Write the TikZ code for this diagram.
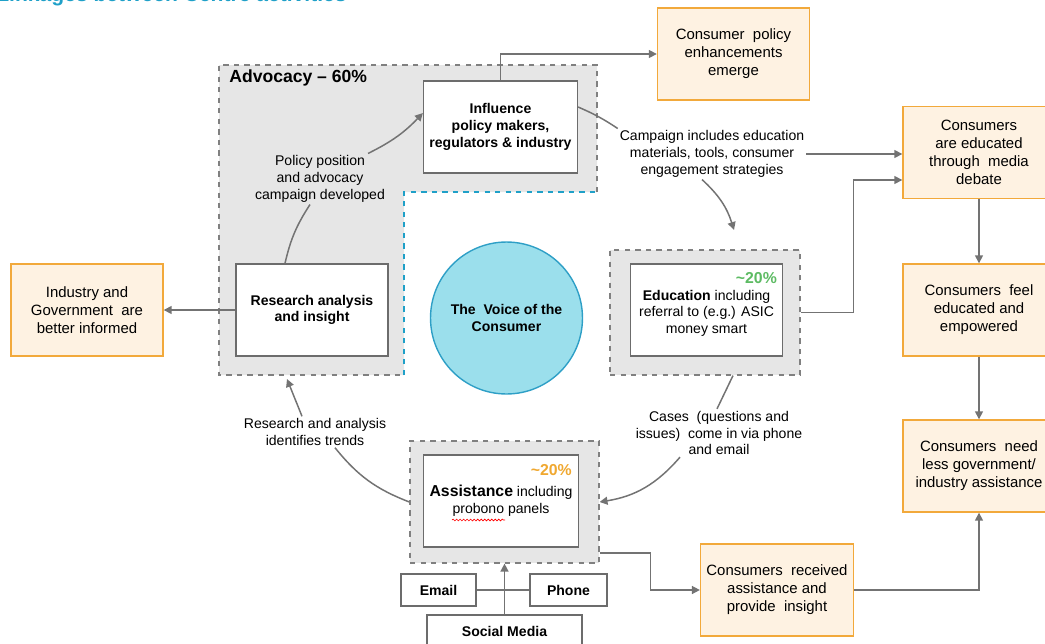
\documentclass[tikz,border=0pt]{standalone}
\usepackage{fontspec}
\setmainfont{Liberation Sans}
\usetikzlibrary{arrows.meta,decorations.pathmorphing}

\definecolor{outline}{HTML}{F2A93B}
\definecolor{outfill}{HTML}{FEF2E2}
\definecolor{panelgray}{HTML}{E6E6E6}
\definecolor{linkgray}{HTML}{737373}
\definecolor{voiceblue}{HTML}{9BDFEC}
\definecolor{voiceedge}{HTML}{2E9FC6}
\definecolor{teal}{HTML}{1FA0C8}
\definecolor{pctgreen}{HTML}{5DBB63}
\definecolor{pctorange}{HTML}{F0A830}

\tikzset{
  outcome/.style={draw=outline, fill=outfill, line width=0.8pt, align=center,
    minimum width=3.04cm, minimum height=1.84cm, font=\fontsize{8.5}{10.2}\selectfont},
  activity/.style={draw=gray!85!black, fill=white, line width=0.8pt, align=center,
    minimum width=3.04cm, minimum height=1.84cm, font=\bfseries\fontsize{8}{9.5}\selectfont},
  panel/.style={draw=gray, fill=panelgray, dashed, line width=0.7pt},
  source/.style={draw=gray!85!black, fill=white, line width=0.7pt, minimum height=0.64cm,
    font=\bfseries\fontsize{8}{9.5}\selectfont},
  note/.style={align=center, inner sep=1pt, font=\fontsize{8}{9.6}\selectfont},
  pct/.style={anchor=east, inner sep=0pt, font=\bfseries\fontsize{9}{10}\selectfont},
  link/.style={draw=linkgray, line width=0.85pt},
}

\begin{document}
\begin{tikzpicture}[x=0.02cm, y=-0.02cm, >={Triangle[length=4.5pt,width=4.5pt]}]
  \useasboundingbox (0,0) rectangle (1045,643);

  % title, cut off at the top
  \node[anchor=base west, inner sep=0, text=teal, font=\bfseries\fontsize{12}{14}\selectfont] (title) at (-4,1) {Linkages between Centre activities};

  % advocacy area
  \fill[panelgray] (219,65) -- (597,65) -- (597,192) -- (404,192) -- (404,375) -- (219,375) -- cycle;
  \draw[gray, dashed, line width=0.7pt] (597,192) -- (597,65) -- (219,65) -- (219,375) -- (404,375);
  \draw[teal, dashed, line width=0.7pt] (404,375) -- (404,192) -- (597,192);
  \node[anchor=west, inner sep=0, font=\bfseries\fontsize{10}{12}\selectfont] (advTitle) at (229,78) {Advocacy -- 60\%};

  \node[activity] (influence) at (500.5,127) {Influence\\policy makers,\\regulators \& industry};
  \node[activity] (research) at (312,310) {Research analysis\\and insight};

  % centre
  \node[circle, draw=voiceedge, fill=voiceblue, line width=0.8pt, minimum size=3.04cm, align=center,
    font=\bfseries\fontsize{8}{9.5}\selectfont] (voice) at (506.5,318) {The~ Voice of the\\Consumer};

  % education and assistance
  \node[panel, minimum width=3.8cm, minimum height=2.5cm] (eduPanel) at (705,312.5) {};
  \node[activity, font=\fontsize{8}{9.6}\selectfont] (education) at (706.5,310) {\mbox{}\\\textbf{Education} including\\referral to (e.g.) ASIC\\money smart};
  \node[pct, text=pctgreen] (eduPct) at ([xshift=-0.12cm,yshift=-0.3cm]education.north east) {\textasciitilde20\%};

  \node[panel, minimum width=3.78cm, minimum height=2.44cm] (assistPanel) at (504.5,502) {};
  \node[activity, font=\fontsize{8}{9.6}\selectfont] (assistance) at (501,501) {{\bfseries\fontsize{9}{9.6}\selectfont Assistance} including\\probono panels};
  \node[pct, text=pctorange] (assistPct) at ([xshift=-0.14cm,yshift=-0.32cm]assistance.north east) {\textasciitilde20\%};
  \draw[red, line width=0.35pt, decorate, decoration={snake, amplitude=0.5pt, segment length=2pt}] (452,520) -- (505,520);

  \node[source, minimum width=1.5cm] (email) at (438.5,590) {Email};
  \node[source, minimum width=1.54cm] (phone) at (568.5,590) {Phone};
  \node[source, minimum width=3.1cm] (social) at (504.5,631) {Social Media};

  % outcomes
  \node[outcome] (policy) at (733.5,54) {Consumer~ policy\\enhancements\\emerge};
  \node[outcome] (educated) at (979,152.5) {Consumers\\are educated\\through~ media\\debate};
  \node[outcome] (feel) at (979,310) {Consumers~ feel\\educated and\\empowered};
  \node[outcome] (less) at (979,466) {Consumers~ need\\less government/\\industry assistance};
  \node[outcome] (received) at (777,590) {Consumers~ received\\assistance and\\provide~ insight};
  \node[outcome] (industry) at (87,310) {Industry and\\Government~ are\\better informed};

  % notes on the links
  \node[note] (campaign) at (712,154) {Campaign includes education\\materials, tools, consumer\\engagement strategies};
  \node[note] (policyNote) at (320,179) {Policy position\\and advocacy\\campaign developed};
  \node[note] (cases) at (719,433) {Cases~ (questions and\\issues)~ come in via phone\\and email};
  \node[note] (trends) at (315,432) {Research and analysis\\identifies trends};

  \coordinate (eduIn) at (734,230);
  \coordinate (advIn) at (287,379);

  % links
  \draw[link,->] (influence.north) |- (policy.west);
  \draw[link] ([yshift=0.4cm]influence.east) to[bend left=5] (campaign.north west);
  \draw[link,->] (campaign.east) -- (campaign.east -| educated.west);
  \draw[link,->] ([xshift=-0.2cm]campaign.south) to[bend left=15] (eduIn);
  \draw[link,->] (eduPanel.east) -- ++(53,0) |- ([yshift=-0.55cm]educated.west);
  \draw[link,->] (educated) -- (feel);
  \draw[link,->] (feel) -- (less);
  \draw[link,->] (received.east) -| (less.south);
  \draw[link,->] ([yshift=-1.02cm]assistPanel.east) -- ++(51,0) |- (received.west);
  \draw[link] ([xshift=0.56cm]eduPanel.south) -- ([xshift=-0.04cm]cases.north);
  \draw[link,->] ([xshift=-0.78cm]cases.south) to[bend left=20] (assistPanel.east);
  \draw[link] (assistPanel.west) to[bend left=15] ([xshift=0.4cm]trends.south);
  \draw[link,->] ([xshift=-0.26cm]trends.north) -- (advIn);
  \draw[link] ([xshift=-0.54cm]research.north) to[bend left=10] ([xshift=-0.2cm]policyNote.south);
  \draw[link,->] ([xshift=0.96cm]policyNote.north) to[bend right=10] ([yshift=0.28cm]influence.west);
  \draw[link,->] (research) -- (industry);
  \draw[link] (email) -- (phone);
  \draw[link,->] (social) -- (assistPanel);
\end{tikzpicture}
\end{document}
